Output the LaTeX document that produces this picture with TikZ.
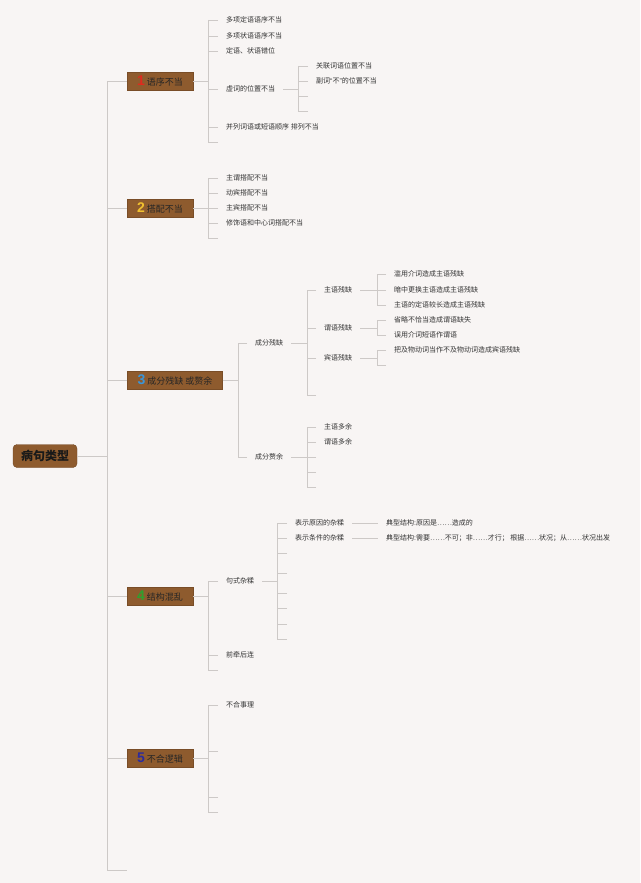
\documentclass[tikz,border=0pt]{standalone}
\usepackage{fontspec}
\setmainfont{Noto Sans CJK SC}
\newfontfamily\numfont{Liberation Sans}
\definecolor{bg}{HTML}{F8F5F4}
\definecolor{linkgray}{HTML}{CDC9C7}
\definecolor{boxbrown}{HTML}{8E5B2E}
\definecolor{txtdark}{HTML}{333333}
\definecolor{nred}{HTML}{E02A1E}
\definecolor{nyellow}{HTML}{F2C230}
\definecolor{nblue}{HTML}{3A96DA}
\definecolor{ngreen}{HTML}{2EA02E}
\definecolor{nnavy}{HTML}{2B2B9F}
\newcommand{\num}[2]{{\numfont\bfseries\fontsize{14}{14}\selectfont\color{#1}#2}}
\newcommand{\qt}[1]{{\numfont“}#1{\numfont”}}
\tikzset{
  link/.style={draw=linkgray, line width=0.9pt},
  rootbox/.style={fill=boxbrown, draw=boxbrown!80!black, rounded corners=4pt,
    inner xsep=8pt, minimum height=23pt, font=\fontsize{12}{12}\selectfont\bfseries, text=black!90},
  topic/.style={fill=boxbrown, draw=boxbrown!85!black, inner xsep=10pt,
    minimum height=18pt, font=\fontsize{9}{9}\selectfont, text=black!85},
  item/.style={anchor=west, inner xsep=8pt, inner ysep=1pt,
    font=\fontsize{7}{7}\selectfont, text=txtdark},
}
\begin{document}
\begin{tikzpicture}[x=1pt,y=-1pt]
\fill[bg] (0,0) rectangle (640,883);
\useasboundingbox (0,0) rectangle (640,883);

% bracket columns
\coordinate (x0) at (107,0);
\coordinate (x1) at (208,0);
\coordinate (x2) at (298,0);
\coordinate (x3) at (238,0);
\coordinate (x4) at (307,0);
\coordinate (x5) at (377,0);
\coordinate (x6) at (277,0);

% root and topics
\node[rootbox] (root) at (45,456) {病句类型};
\node[topic] (t1) at (160,81) {\num{nred}{1} 语序不当};
\node[topic] (t2) at (160,208) {\num{nyellow}{2} 搭配不当};
\node[topic] (t3) at (175,380) {\num{nblue}{3} 成分残缺 或赘余};
\node[topic] (t4) at (160,596) {\num{ngreen}{4} 结构混乱};
\node[topic] (t5) at (160,758) {\num{nnavy}{5} 不合逻辑};
\coordinate (tend) at (127,870);

\draw[link] (root.east) -- (root.east -| x0);
\draw[link] (t1.west -| x0) -- (tend -| x0) -- (tend);
\foreach \t in {t1,t2,t3,t4,t5}
  \draw[link] (\t.west) -- (\t.west -| x0);

% 1 语序不当
\node[item] (a1) at (218,20) {多项定语语序不当};
\node[item] (a2) at (218,36) {多项状语语序不当};
\node[item] (a3) at (218,51) {定语、状语错位};
\node[item] (a4) at (218,89) {虚词的位置不当};
\node[item] (a5) at (218,127) {并列词语或短语顺序 排列不当};
\node[item] (a6) at (218,142) {};
\draw[link] (t1.east) -- (t1.east -| x1);
\draw[link] (a1.west -| x1) -- (a6.west -| x1);
\foreach \n in {a1,a2,a3,a4,a5,a6}
  \draw[link] (\n.west) -- (\n.west -| x1);

\node[item] (b1) at (308,66) {关联词语位置不当};
\node[item] (b2) at (308,81) {副词\qt{不}的位置不当};
\node[item] (b3) at (308,96) {};
\node[item] (b4) at (308,111) {};
\draw[link] (a4.east) -- (a4.east -| x2);
\draw[link] (b1.west -| x2) -- (b4.west -| x2);
\foreach \n in {b1,b2,b3,b4}
  \draw[link] (\n.west) -- (\n.west -| x2);

% 2 搭配不当
\node[item] (c1) at (218,178) {主谓搭配不当};
\node[item] (c2) at (218,193) {动宾搭配不当};
\node[item] (c3) at (218,208) {主宾搭配不当};
\node[item] (c4) at (218,223) {修饰语和中心词搭配不当};
\node[item] (c5) at (218,238) {};
\draw[link] (t2.east) -- (t2.east -| x1);
\draw[link] (c1.west -| x1) -- (c5.west -| x1);
\foreach \n in {c1,c2,c3,c4,c5}
  \draw[link] (\n.west) -- (\n.west -| x1);

% 3 成分残缺 或赘余
\node[item] (d1) at (247,343) {成分残缺};
\node[item] (d2) at (247,457) {成分赘余};
\draw[link] (t3.east) -- (t3.east -| x3);
\draw[link] (d1.west -| x3) -- (d2.west -| x3);
\foreach \n in {d1,d2}
  \draw[link] (\n.west) -- (\n.west -| x3);

\node[item] (e1) at (316,290) {主语残缺};
\node[item] (e2) at (316,328) {谓语残缺};
\node[item] (e3) at (316,358) {宾语残缺};
\node[item] (e4) at (316,395) {};
\draw[link] (d1.east) -- (d1.east -| x4);
\draw[link] (e1.west -| x4) -- (e4.west -| x4);
\foreach \n in {e1,e2,e3,e4}
  \draw[link] (\n.west) -- (\n.west -| x4);

\node[item] (f1) at (386,274) {滥用介词造成主语残缺};
\node[item] (f2) at (386,290) {暗中更换主语造成主语残缺};
\node[item] (f3) at (386,305) {主语的定语较长造成主语残缺};
\draw[link] (e1.east) -- (e1.east -| x5);
\draw[link] (f1.west -| x5) -- (f3.west -| x5);
\foreach \n in {f1,f2,f3}
  \draw[link] (\n.west) -- (\n.west -| x5);

\node[item] (g1) at (386,320) {省略不恰当造成谓语缺失};
\node[item] (g2) at (386,335) {误用介词短语作谓语};
\draw[link] (e2.east) -- (e2.east -| x5);
\draw[link] (g1.west -| x5) -- (g2.west -| x5);
\foreach \n in {g1,g2}
  \draw[link] (\n.west) -- (\n.west -| x5);

\node[item] (h1) at (386,350) {把及物动词当作不及物动词造成宾语残缺};
\node[item] (h2) at (386,365) {};
\draw[link] (e3.east) -- (e3.east -| x5);
\draw[link] (h1.west -| x5) -- (h2.west -| x5);
\foreach \n in {h1,h2}
  \draw[link] (\n.west) -- (\n.west -| x5);

\node[item] (k1) at (316,427) {主语多余};
\node[item] (k2) at (316,442) {谓语多余};
\node[item] (k3) at (316,457) {};
\node[item] (k4) at (316,472) {};
\node[item] (k5) at (316,487) {};
\draw[link] (d2.east) -- (d2.east -| x4);
\draw[link] (k1.west -| x4) -- (k5.west -| x4);
\foreach \n in {k1,k2,k3,k4,k5}
  \draw[link] (\n.west) -- (\n.west -| x4);

% 4 结构混乱
\node[item] (m1) at (218,581) {句式杂糅};
\node[item] (m2) at (218,655) {前牵后连};
\node[item] (m3) at (218,670) {};
\draw[link] (t4.east) -- (t4.east -| x1);
\draw[link] (m1.west -| x1) -- (m3.west -| x1);
\foreach \n in {m1,m2,m3}
  \draw[link] (\n.west) -- (\n.west -| x1);

\node[item] (n1) at (287,523) {表示原因的杂糅};
\node[item] (n2) at (287,538) {表示条件的杂糅};
\node[item] (n3) at (287,553) {};
\node[item] (n4) at (287,573) {};
\node[item] (n5) at (287,593) {};
\node[item] (n6) at (287,608) {};
\node[item] (n7) at (287,624) {};
\node[item] (n8) at (287,639) {};
\draw[link] (m1.east) -- (m1.east -| x6);
\draw[link] (n1.west -| x6) -- (n8.west -| x6);
\foreach \n in {n1,n2,n3,n4,n5,n6,n7,n8}
  \draw[link] (\n.west) -- (\n.west -| x6);

\node[item] (p1) at (378,523) {典型结构:原因是……造成的};
\node[item] (p2) at (378,538) {典型结构:需要……不可；非……才行； 根据……状况；从……状况出发};
\draw[link] (n1.east) -- (p1.west);
\draw[link] (n2.east) -- (p2.west);

% 5 不合逻辑
\node[item] (q1) at (218,705) {不合事理};
\node[item] (q2) at (218,751) {};
\node[item] (q3) at (218,797) {};
\node[item] (q4) at (218,812) {};
\draw[link] (t5.east) -- (t5.east -| x1);
\draw[link] (q1.west -| x1) -- (q4.west -| x1);
\foreach \n in {q1,q2,q3,q4}
  \draw[link] (\n.west) -- (\n.west -| x1);
\end{tikzpicture}
\end{document}
